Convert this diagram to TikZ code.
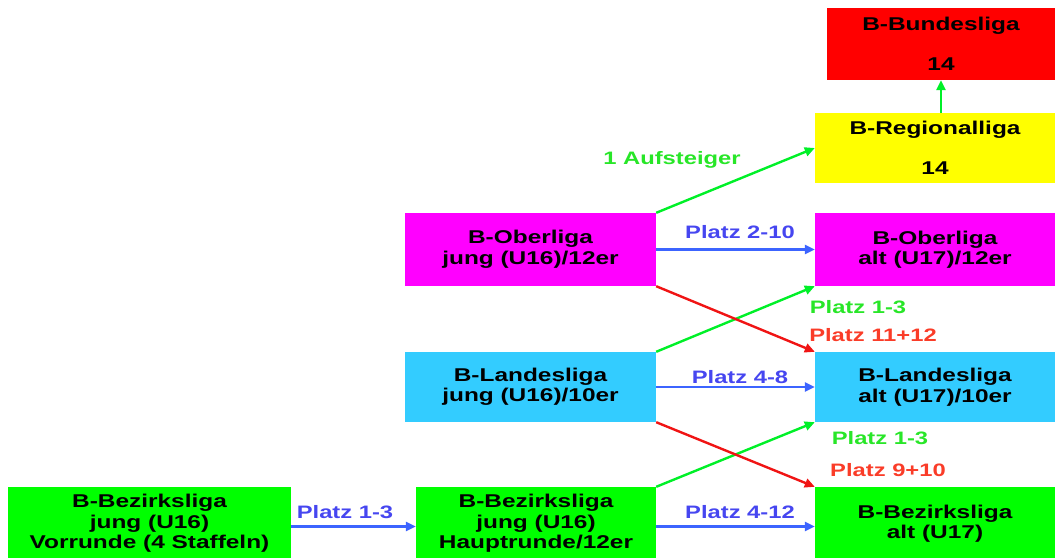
\documentclass[tikz,border=0pt]{standalone}
\usepackage{fontspec}
\setmainfont{Liberation Sans}[FakeStretch=1.32]
\usetikzlibrary{arrows.meta}
\definecolor{ligared}{RGB}{255,0,0}
\definecolor{ligayellow}{RGB}{255,255,0}
\definecolor{ligamagenta}{RGB}{255,0,255}
\definecolor{ligacyan}{RGB}{51,204,255}
\definecolor{ligagreen}{RGB}{0,255,0}
\definecolor{upgreen}{RGB}{0,240,40}
\definecolor{downred}{RGB}{240,20,20}
\definecolor{stayblue}{RGB}{60,100,255}
\definecolor{txtgreen}{RGB}{40,230,40}
\definecolor{txtred}{RGB}{250,60,40}
\definecolor{txtblue}{RGB}{70,70,240}

\begin{document}
\begin{tikzpicture}[x=1pt,y=-1pt,
  liga/.style n args={3}{fill=#1, minimum width=#2pt, minimum height=#3pt,
    inner sep=0pt, align=center, font=\bfseries\fontsize{18.5}{20.5}\selectfont},
  conn/.style={line width=2.4pt, -{Triangle[length=10pt,width=9pt]}},
  up/.style={conn, upgreen},
  down/.style={conn, downred},
  stay/.style={conn, stayblue},
  lbl/.style={font=\bfseries\fontsize{18}{20}\selectfont}]

% frame
\useasboundingbox (0,0) rectangle (1055,557);
\clip (0,0) rectangle (1055,557);

% leagues
\node [liga={ligared}{228}{72}] (bl) at (941,44) {B-Bundesliga\\[20pt]14};
\node [liga={ligayellow}{240}{70}] (rl) at (935,148) {B-Regionalliga\\[20pt]14};
\node [liga={ligamagenta}{251}{73}] (oj) at (530.5,249.5) {B-Oberliga\\jung (U16)/12er};
\node [liga={ligamagenta}{240}{73}] (oa) at (935,249.5) {B-Oberliga\\alt (U17)/12er};
\node [liga={ligacyan}{251}{70}] (lj) at (530.5,387) {B-Landesliga\\jung (U16)/10er};
\node [liga={ligacyan}{240}{70}] (la) at (935,387) {B-Landesliga\\alt (U17)/10er};
\node [liga={ligagreen}{283}{73}] (bv) at (149.5,523.5) {B-Bezirksliga\\jung (U16)\\Vorrunde (4 Staffeln)};
\node [liga={ligagreen}{240}{73}] (bh) at (536,523.5) {B-Bezirksliga\\jung (U16)\\Hauptrunde/12er};
\node [liga={ligagreen}{240}{73}] (ba) at (935,523.5) {B-Bezirksliga\\alt (U17)};

% promotion
\draw [up] (rl.north -| bl.south) -- (bl.south);
\draw [up] (oj.north east) -- (rl.west);
\draw [up] (lj.north east) -- (oa.south west);
\draw [up] (bh.north east) -- (la.south west);
% relegation
\draw [down] (oj.south east) -- (la.north west);
\draw [down] (lj.south east) -- (ba.north west);
% staying
\draw [stay] (oj.east) -- (oa.west);
\draw [stay] (lj.east) -- (la.west);
\path (bh.west -| bv.east) ++(0,3) coordinate (bvout);
\draw [stay] (bvout) -- (bvout -| bh.west);
\path (bh.east) ++(0,3) coordinate (bhout);
\draw [stay] (bhout) -- (bhout -| ba.west);

% labels
\node [lbl, txtgreen] (auf) at (672,160) {1 Aufsteiger};
\node [lbl, txtblue] (p210) at (740,232) {Platz 2-10};
\node [lbl, txtgreen] (p13a) at (858,307) {Platz 1-3};
\node [lbl, txtred] (p1112) at (873,335) {Platz 11+12};
\node [lbl, txtblue] (p48) at (740,377) {Platz 4-8};
\node [lbl, txtgreen] (p13b) at (880,438) {Platz 1-3};
\node [lbl, txtred] (p910) at (888,470) {Platz 9+10};
\node [lbl, txtblue] (p412) at (740,512) {Platz 4-12};
\node [lbl, txtblue] (p13c) at (345,512) {Platz 1-3};

\end{tikzpicture}
\end{document}
